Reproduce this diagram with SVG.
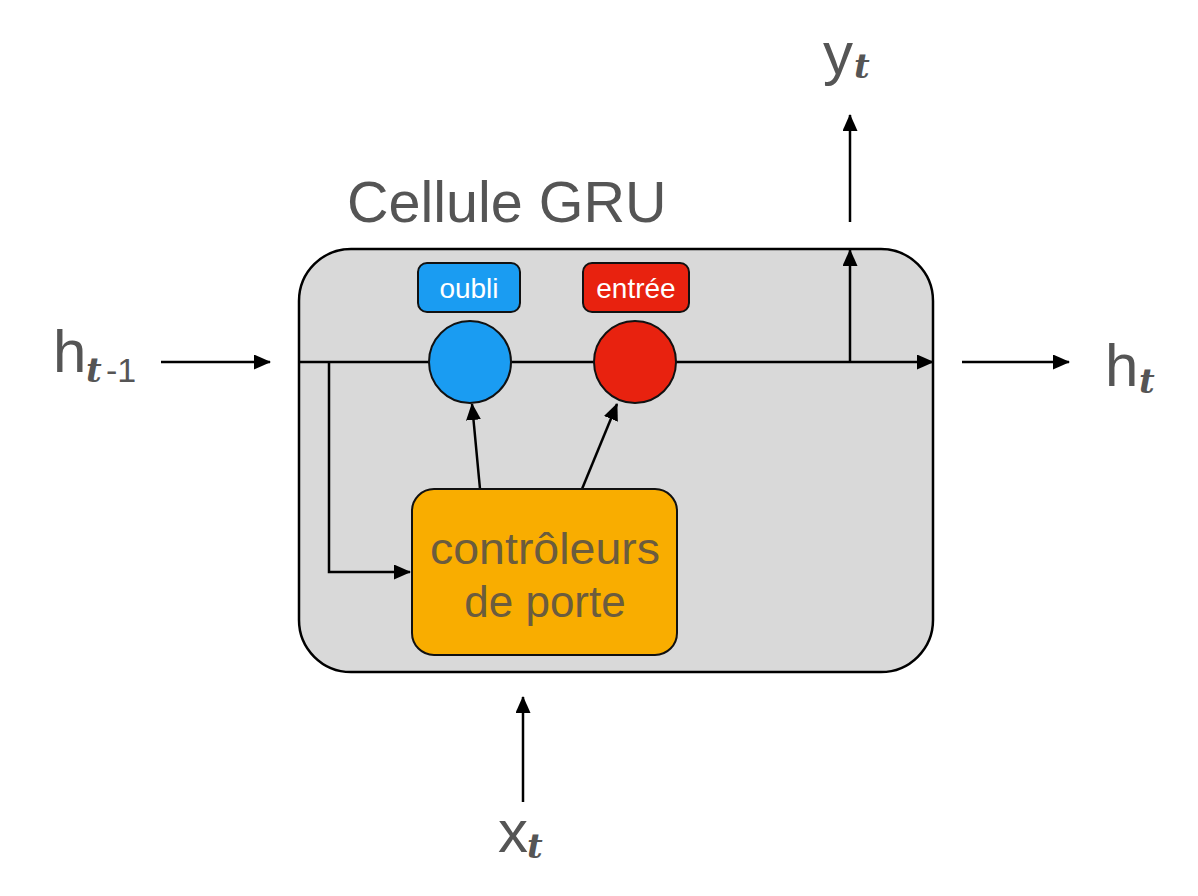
<svg xmlns="http://www.w3.org/2000/svg" width="1198" height="896" viewBox="0 0 1198 896">
<defs>
<marker id="arr" markerUnits="userSpaceOnUse" markerWidth="17" markerHeight="15" refX="16" refY="7.5" orient="auto">
<path d="M0,0 L17,7.5 L0,15 Z" fill="#000"/>
</marker>
<style>
.lbl{font-family:"Liberation Sans",Arial,sans-serif;fill:#555;}
.sub{font-family:"DejaVu Serif","Liberation Serif",serif;font-weight:bold;font-style:italic;fill:#555;}
.ar{stroke:#000;stroke-width:2.5;fill:none;marker-end:url(#arr);}
.gate{stroke:#111;stroke-width:2;}
.tag{font-family:"Liberation Sans",Arial,sans-serif;fill:#fff;font-size:28px;text-anchor:middle;}
.ctl{font-family:"Liberation Sans",Arial,sans-serif;font-size:44px;fill:#6b5c3e;text-anchor:middle;}
</style>
</defs>
<rect width="1198" height="896" fill="#fff"/>

<g id="cell">
<rect x="299" y="249" width="634" height="423" rx="52" ry="52" fill="#d9d9d9" stroke="#000" stroke-width="2.5"/>
<text class="lbl" x="347" y="222" font-size="57.5">Cellule GRU</text>
</g>

<g id="connectors">
<line class="ar" x1="299" y1="362" x2="933" y2="362"/>
<polyline class="ar" points="329,362 329,572 410,572"/>
<line class="ar" x1="850" y1="362" x2="850" y2="250"/>
<line class="ar" x1="850" y1="222" x2="850" y2="115"/>
<line class="ar" x1="161" y1="362" x2="270" y2="362"/>
<line class="ar" x1="962" y1="362" x2="1069" y2="362"/>
<line class="ar" x1="523" y1="802" x2="523" y2="697"/>
<line class="ar" x1="480" y1="489" x2="472" y2="404"/>
<line class="ar" x1="582" y1="489" x2="617" y2="404"/>
</g>

<g id="forget">
<circle class="gate" cx="470" cy="362" r="41" fill="#1a9cf2"/>
<rect x="418" y="263" width="102" height="49" rx="9" fill="#1a9cf2" stroke="#111" stroke-width="2"/>
<text class="tag" x="469" y="298">oubli</text>
</g>

<g id="input">
<circle class="gate" cx="635" cy="362" r="41" fill="#e8220f"/>
<rect x="583" y="263" width="106" height="49" rx="9" fill="#e8220f" stroke="#111" stroke-width="2"/>
<text class="tag" x="636" y="298">entrée</text>
</g>

<g id="controllers">
<rect x="412" y="489" width="265" height="166" rx="22" fill="#f9ad00" stroke="#111" stroke-width="2"/>
<text class="ctl" x="545" y="564" textLength="230" lengthAdjust="spacingAndGlyphs">contrôleurs</text>
<text class="ctl" x="545" y="617">de porte</text>
</g>

<g id="h_prev">
<text class="lbl" x="53" y="372" font-size="60">h</text>
<text class="sub" x="86" y="382" font-size="34">t</text>
<text class="lbl" x="106" y="382" font-size="34">-1</text>
</g>

<g id="h_t">
<text class="lbl" x="1105" y="386" font-size="60">h</text>
<text class="sub" x="1139" y="393" font-size="34">t</text>
</g>

<g id="y_t">
<text class="lbl" x="823" y="74" font-size="60">y</text>
<text class="sub" x="854" y="78" font-size="34">t</text>
</g>

<g id="x_t">
<text class="lbl" x="498" y="852" font-size="60">x</text>
<text class="sub" x="527" y="858" font-size="34">t</text>
</g>
</svg>
